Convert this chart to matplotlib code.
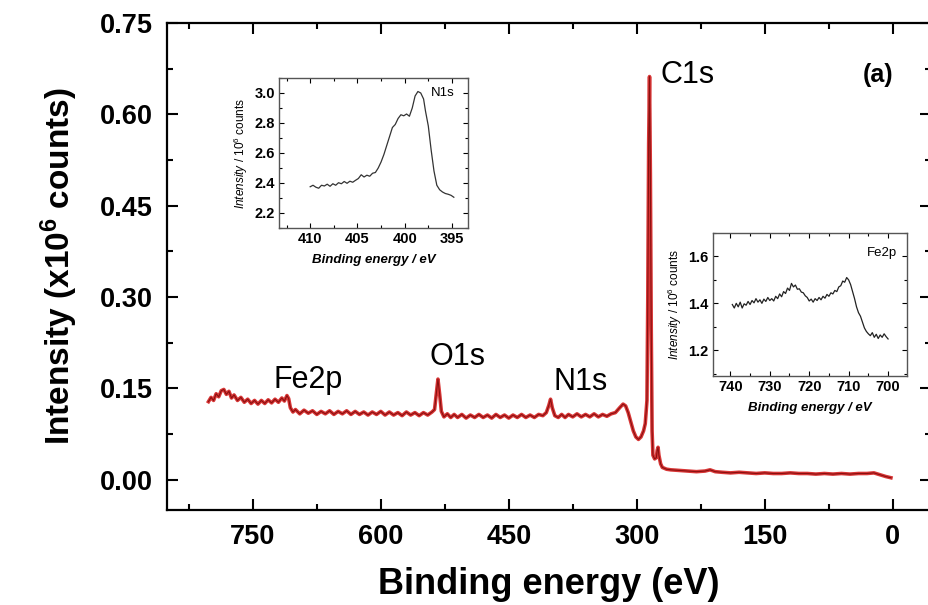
import numpy as np
import matplotlib.pyplot as plt
from matplotlib.ticker import MultipleLocator, FormatStrFormatter

plt.rcParams['font.family'] = ['Liberation Sans', 'DejaVu Sans']
plt.rcParams['mathtext.fontset'] = 'custom'
plt.rcParams['mathtext.rm'] = 'Liberation Sans'
plt.rcParams['mathtext.it'] = 'Liberation Sans:italic'
plt.rcParams['mathtext.bf'] = 'Liberation Sans:bold'

# survey spectrum (binding energy in eV, intensity in 10^6 counts)
survey_be = [802, 799, 796, 793, 790, 787, 784, 781, 778, 775, 772, 768, 764, 760, 756, 752,
             748, 744, 740, 736, 732, 728, 724, 720, 716, 713, 710, 708, 706, 703, 700, 695,
             690, 685, 680, 675, 670, 665, 660, 655, 650, 645, 640, 635, 630, 625, 620, 615,
             610, 605, 600, 595, 590, 585, 580, 575, 570, 565, 560, 555, 550, 545, 540, 537,
             535, 533, 531, 529, 526, 522, 518, 514, 510, 505, 500, 495, 490, 485, 480, 475,
             470, 465, 460, 455, 450, 445, 440, 435, 430, 425, 420, 415, 410, 406, 403, 401,
             399, 396, 392, 388, 384, 380, 375, 370, 365, 360, 355, 350, 345, 340, 335, 330,
             325, 320, 316, 313, 310, 307, 304, 301, 298, 295, 292, 290, 288, 287, 286, 285,
             284, 283, 282, 281, 279, 277, 276, 275, 274, 272, 270, 265, 260, 250, 240, 230,
             220, 214, 208, 200, 190, 180, 170, 160, 150, 140, 130, 120, 110, 100, 90, 80,
             70, 60, 50, 40, 30, 22, 15, 8, 2]
survey_int = [0.128, 0.135, 0.130, 0.141, 0.136, 0.146, 0.148, 0.140, 0.145, 0.134, 0.139, 0.130,
              0.135, 0.127, 0.132, 0.125, 0.130, 0.124, 0.130, 0.125, 0.131, 0.126, 0.132, 0.127,
              0.134, 0.129, 0.138, 0.133, 0.118, 0.111, 0.115, 0.108, 0.114, 0.109, 0.113, 0.107,
              0.112, 0.108, 0.113, 0.107, 0.112, 0.108, 0.113, 0.107, 0.112, 0.107, 0.111, 0.106,
              0.111, 0.107, 0.112, 0.106, 0.111, 0.106, 0.110, 0.105, 0.111, 0.106, 0.110, 0.105,
              0.110, 0.106, 0.111, 0.115, 0.140, 0.165, 0.140, 0.112, 0.103, 0.108, 0.102, 0.107,
              0.102, 0.107, 0.101, 0.106, 0.102, 0.107, 0.102, 0.106, 0.101, 0.107, 0.102, 0.106,
              0.101, 0.106, 0.102, 0.107, 0.102, 0.106, 0.102, 0.107, 0.105, 0.110, 0.122, 0.132,
              0.118, 0.105, 0.102, 0.107, 0.102, 0.107, 0.103, 0.108, 0.103, 0.107, 0.103, 0.108,
              0.103, 0.107, 0.104, 0.108, 0.110, 0.118, 0.124, 0.121, 0.110, 0.095, 0.080, 0.070,
              0.066, 0.070, 0.080, 0.092, 0.130, 0.300, 0.550, 0.662, 0.500, 0.250, 0.080, 0.040,
              0.034, 0.036, 0.048, 0.053, 0.040, 0.026, 0.020, 0.017, 0.016, 0.015, 0.014, 0.013,
              0.014, 0.016, 0.013, 0.012, 0.011, 0.012, 0.011, 0.010, 0.011, 0.010, 0.010, 0.011,
              0.010, 0.010, 0.009, 0.010, 0.009, 0.010, 0.009, 0.010, 0.010, 0.011, 0.008, 0.005,
              0.003]

# N1s high-resolution inset
n1s_be = [410.0, 409.7, 409.4, 409.1, 408.8, 408.5, 408.2, 407.9, 407.6, 407.3, 407.0, 406.7,
          406.4, 406.1, 405.8, 405.5, 405.2, 404.9, 404.6, 404.3, 404.0, 403.7, 403.4, 403.1,
          402.8, 402.5, 402.2, 401.9, 401.6, 401.3, 401.0, 400.7, 400.4, 400.1, 399.8, 399.5,
          399.2, 398.9, 398.6, 398.3, 398.0, 397.8, 397.5, 397.2, 396.9, 396.6, 396.3, 396.0,
          395.7, 395.4, 395.1, 394.8]
n1s_int = [2.375, 2.385, 2.372, 2.365, 2.385, 2.380, 2.392, 2.378, 2.395, 2.385, 2.402, 2.395,
           2.410, 2.398, 2.412, 2.405, 2.418, 2.430, 2.455, 2.440, 2.452, 2.445, 2.465, 2.470,
           2.500, 2.540, 2.590, 2.650, 2.710, 2.770, 2.790, 2.830, 2.855, 2.848, 2.860, 2.845,
           2.900, 2.980, 3.010, 3.000, 2.960, 2.880, 2.780, 2.620, 2.480, 2.385, 2.355, 2.340,
           2.330, 2.325, 2.318, 2.305]

# Fe2p high-resolution inset
fe_be = [739.5, 739.0, 738.5, 738.0, 737.5, 737.0, 736.5, 736.0, 735.5, 735.0, 734.5, 734.0,
         733.5, 733.0, 732.5, 732.0, 731.5, 731.0, 730.5, 730.0, 729.5, 729.0, 728.5, 728.0,
         727.5, 727.0, 726.5, 726.0, 725.5, 725.0, 724.5, 724.0, 723.5, 723.0, 722.5, 722.0,
         721.5, 721.0, 720.5, 720.0, 719.5, 719.0, 718.5, 718.0, 717.5, 717.0, 716.5, 716.0,
         715.5, 715.0, 714.5, 714.0, 713.5, 713.0, 712.5, 712.0, 711.5, 711.0, 710.5, 710.0,
         709.5, 709.0, 708.5, 708.0, 707.5, 707.0, 706.5, 706.0, 705.5, 705.0, 704.5, 704.0,
         703.5, 703.0, 702.5, 702.0, 701.5, 701.0, 700.5, 700.0]
fe_int = [1.395, 1.380, 1.400, 1.385, 1.405, 1.380, 1.398, 1.392, 1.408, 1.395, 1.412, 1.402,
          1.420, 1.405, 1.415, 1.400, 1.418, 1.408, 1.425, 1.412, 1.420, 1.410, 1.430, 1.420,
          1.440, 1.428, 1.450, 1.442, 1.465, 1.455, 1.485, 1.470, 1.478, 1.460, 1.462, 1.448,
          1.445, 1.432, 1.425, 1.410, 1.418, 1.405, 1.420, 1.412, 1.425, 1.415, 1.430, 1.422,
          1.438, 1.430, 1.445, 1.440, 1.455, 1.450, 1.470, 1.475, 1.495, 1.490, 1.510, 1.500,
          1.480, 1.450, 1.420, 1.385, 1.360, 1.345, 1.320, 1.295, 1.280, 1.270, 1.262, 1.275,
          1.255, 1.268, 1.250, 1.265, 1.255, 1.270, 1.258, 1.248]

peak_labels = ['Fe2p', 'O1s', 'N1s', 'C1s']
peak_label_be = [685, 510, 366, 240]
peak_label_y = [0.164, 0.202, 0.161, 0.665]

fig = plt.figure(figsize=(9.29, 6.05), dpi=100)
ax = fig.add_axes([0.1794, 0.157, 0.8228, 0.805])

ax.plot(survey_be, survey_int, color='#d42020', linewidth=2.6, alpha=0.9)
ax.plot(survey_be, survey_int, color='#8a1010', linewidth=0.8)

ax.set_xlim(851, -45)
ax.set_ylim(-0.05, 0.75)
ax.xaxis.set_major_locator(MultipleLocator(150))
ax.xaxis.set_minor_locator(MultipleLocator(75))
ax.yaxis.set_major_locator(MultipleLocator(0.15))
ax.yaxis.set_minor_locator(MultipleLocator(0.075))
ax.yaxis.set_major_formatter(FormatStrFormatter('%.2f'))
ax.tick_params(which='both', direction='in', top=True, right=True, width=1.5)
ax.tick_params(which='major', length=8, labelsize=19.5, pad=10)
ax.tick_params(which='minor', length=4)
for lab in ax.get_xticklabels() + ax.get_yticklabels():
    lab.set_fontweight('bold')
for sp in ax.spines.values():
    sp.set_linewidth(1.6)

ax.set_xlabel('Binding energy (eV)', fontsize=26, fontweight='bold', labelpad=12)
ax.set_ylabel(r'Intensity (x10$^\mathbf{6}$ counts)', fontsize=24, fontweight='bold', labelpad=14)

for name, xb, yb in zip(peak_labels, peak_label_be, peak_label_y):
    ax.text(xb, yb, name, fontsize=22, ha='center', va='center')
ax.text(17, 0.665, '(a)', fontsize=18, fontweight='bold', ha='center', va='center')


def style_inset(axi):
    axi.tick_params(which='both', direction='in', top=True, right=True, width=0.8)
    axi.tick_params(which='major', length=3.5, labelsize=10.5, pad=3)
    axi.tick_params(which='minor', length=2)
    for lab in axi.get_xticklabels() + axi.get_yticklabels():
        lab.set_fontweight('bold')
    for sp in axi.spines.values():
        sp.set_linewidth(1.0)
        sp.set_color('#555555')
    axi.set_xlabel('Binding energy / eV', fontsize=9.5, fontweight='bold', style='italic', labelpad=6)
    axi.set_ylabel(r'$\it{Intensity}$ / 10$^6$ counts', fontsize=8.5, labelpad=3)


# N1s inset
ax1 = fig.add_axes([279 / 929, 1 - 228 / 605, 189 / 929, 150 / 605])
ax1.plot(n1s_be, n1s_int, color='#333333', linewidth=0.9)
ax1.set_xlim(413.3, 393.3)
ax1.set_ylim(2.1, 3.1)
ax1.xaxis.set_major_locator(MultipleLocator(5))
ax1.xaxis.set_minor_locator(MultipleLocator(2.5))
ax1.yaxis.set_major_locator(MultipleLocator(0.2))
ax1.yaxis.set_minor_locator(MultipleLocator(0.1))
style_inset(ax1)
ax1.text(0.93, 0.9, 'N1s', transform=ax1.transAxes, fontsize=9.5, ha='right', va='center')

# Fe2p inset
ax2 = fig.add_axes([713 / 929, 1 - 376 / 605, 194 / 929, 143 / 605])
ax2.plot(fe_be, fe_int, color='#222222', linewidth=0.9)
ax2.set_xlim(744.4, 695.2)
ax2.set_ylim(1.09, 1.70)
ax2.xaxis.set_major_locator(MultipleLocator(10))
ax2.xaxis.set_minor_locator(MultipleLocator(5))
ax2.yaxis.set_major_locator(MultipleLocator(0.2))
ax2.yaxis.set_minor_locator(MultipleLocator(0.1))
style_inset(ax2)
ax2.text(0.95, 0.86, 'Fe2p', transform=ax2.transAxes, fontsize=9.5, ha='right', va='center')

fig.savefig('out.png', dpi=100)
